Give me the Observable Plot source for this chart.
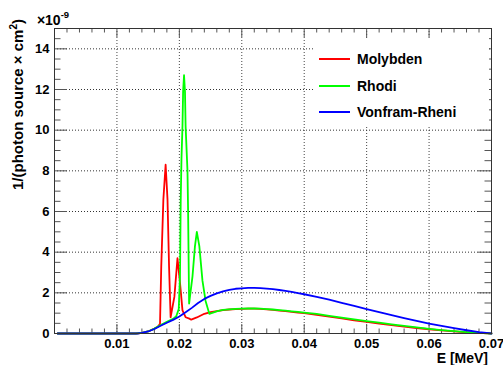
<!DOCTYPE html>
<html><head><meta charset="utf-8">
<script src="https://cdn.jsdelivr.net/npm/d3@7"></script>
<script src="https://cdn.jsdelivr.net/npm/@observablehq/plot@0.6"></script>
<style>
body{margin:0;background:#fff;}
#wrap{position:relative;width:503px;height:365px;font-family:"Liberation Sans",Arial,Helvetica,sans-serif;}
#legend{position:absolute;left:313px;top:38px;width:176px;height:88px;background:#fff;}
.item{position:absolute;left:6px;height:20px;display:flex;align-items:center;font-weight:bold;font-size:14px;color:#000;}
.sw{width:31px;height:2px;margin-right:7px;}
</style></head><body><div id="wrap"></div>
<script>
const seriesNames = ["Molybden", "Rhodi", "Vonfram-Rheni"];
const seriesColors = ["#ff0000", "#00ff00", "#0000ff"];

const molybdenE = [0.0005,0.013,0.014,0.015,0.016,0.0165,0.0169,0.0171,0.01744,0.0178,0.0181,0.01835,0.0186,0.0192,0.0197,0.0201,0.0205,0.021,0.0216,0.0219,0.0228,0.024,0.025,0.026,0.027,0.028,0.029,0.030,0.031,0.032,0.033,0.034,0.035,0.036,0.037,0.038,0.039,0.040,0.042,0.044,0.046,0.048,0.050,0.052,0.054,0.056,0.058,0.060,0.062,0.064,0.066,0.068,0.070];
const molybdenV = [0,0,0.03,0.1,0.24,0.32,0.48,3.3,6.6,8.3,6.6,3.3,0.8,1.8,3.7,2.5,1.14,0.8,0.73,0.68,0.79,0.97,1.05,1.1,1.15,1.18,1.2,1.21,1.22,1.22,1.21,1.19,1.16,1.13,1.1,1.06,1.03,1.0,0.92,0.83,0.74,0.65,0.57,0.49,0.41,0.34,0.27,0.21,0.15,0.1,0.06,0.03,0.0];

const rhodiE = [0.0005,0.013,0.014,0.015,0.016,0.017,0.018,0.019,0.0195,0.0199,0.0201,0.02022,0.02034,0.0205,0.0206,0.02075,0.0209,0.021,0.0213,0.0214,0.02156,0.0221,0.0225,0.0228,0.0232,0.0237,0.0242,0.0248,0.0261,0.027,0.028,0.029,0.030,0.031,0.032,0.033,0.034,0.035,0.036,0.037,0.038,0.039,0.040,0.042,0.044,0.046,0.048,0.050,0.052,0.054,0.056,0.058,0.060,0.062,0.064,0.066,0.068,0.070];
const rhodiV = [0,0,0.03,0.1,0.24,0.42,0.57,0.72,0.85,1.2,2.8,6.6,8.6,10.2,11.9,12.7,11.9,10.2,8.0,6.0,1.47,2.8,4.3,5.0,4.3,2.6,1.6,0.97,1.1,1.16,1.19,1.21,1.22,1.23,1.23,1.22,1.2,1.18,1.15,1.12,1.09,1.06,1.03,0.96,0.87,0.78,0.69,0.61,0.53,0.45,0.37,0.3,0.23,0.17,0.12,0.07,0.03,0.0];

const vonframE = [0.0005,0.0133,0.014,0.015,0.016,0.017,0.018,0.019,0.020,0.021,0.022,0.023,0.024,0.025,0.026,0.027,0.028,0.029,0.030,0.031,0.032,0.033,0.034,0.035,0.036,0.037,0.038,0.039,0.040,0.042,0.044,0.046,0.048,0.050,0.052,0.054,0.056,0.058,0.060,0.062,0.064,0.066,0.068,0.070];
const vonframV = [0,0,0.03,0.1,0.22,0.38,0.53,0.67,0.84,1.04,1.26,1.5,1.7,1.85,1.97,2.07,2.15,2.2,2.22,2.24,2.24,2.23,2.21,2.18,2.14,2.1,2.05,1.99,1.93,1.8,1.66,1.51,1.36,1.2,1.05,0.9,0.76,0.62,0.49,0.37,0.26,0.16,0.07,0.0];

const xMajor = [0.01,0.02,0.03,0.04,0.05,0.06,0.07];
const xTickLabels = ["0.01","0.02","0.03","0.04","0.05","0.06","0.07"];
const yMajor = [0,2,4,6,8,10,12,14];
const yTickLabels = ["0","2","4","6","8","10","12","14"];
const xMinor = d3.range(0, 71, 2).map(d => d / 1000).filter(d => Math.round(d * 1000) % 10 !== 0);
const yMinor = d3.range(0.5, 15, 0.5).filter(d => d % 2 !== 0);
const xGrid = xMajor.slice(0, 6);
const yGrid = yMajor.slice(1);

const W = 503, H = 365, mL = 54, mR = 12, mT = 28, mB = 32;
const pw = W - mL - mR, ph = H - mT - mB;

const toRows = (E, V, s) => E.map((e, i) => ({E: e, v: V[i], s}));
const series = [
  toRows(molybdenE, molybdenV, seriesNames[0]),
  toRows(rhodiE, rhodiV, seriesNames[1]),
  toRows(vonframE, vonframV, seriesNames[2])
];

const tickC = "#555";
const svg = Plot.plot({
  width: W, height: H,
  marginLeft: mL, marginRight: mR, marginTop: mT, marginBottom: mB,
  x: {domain: [0, 0.07]},
  y: {domain: [0, 15]},
  style: {fontFamily: '"Liberation Sans", Arial, sans-serif', background: "#fff"},
  marks: [
    Plot.ruleX(xGrid, {x: d => d, stroke: "#444", strokeDasharray: "1,2", strokeWidth: 1}),
    Plot.ruleY(yGrid, {y: d => d, stroke: "#333", strokeDasharray: "1,2", strokeWidth: 1}),
    Plot.tickX(xMajor, {x: d => d, insetTop: ph - 9, stroke: tickC}),
    Plot.tickX(xMinor, {x: d => d, insetTop: ph - 4.5, stroke: tickC}),
    Plot.tickX(xMajor, {x: d => d, insetBottom: ph - 9, stroke: tickC}),
    Plot.tickX(xMinor, {x: d => d, insetBottom: ph - 4.5, stroke: tickC}),
    Plot.tickY(yMajor, {y: d => d, insetRight: pw - 13, stroke: tickC}),
    Plot.tickY(yMinor, {y: d => d, insetRight: pw - 6.5, stroke: tickC}),
    Plot.tickY(yMajor, {y: d => d, insetLeft: pw - 13, stroke: tickC}),
    Plot.tickY(yMinor, {y: d => d, insetLeft: pw - 6.5, stroke: tickC}),
    ...series.map((rows, i) => Plot.line(rows, {x: "E", y: "v", stroke: seriesColors[i], strokeWidth: 1.8})),
    Plot.frame({stroke: "#333"}),
    Plot.axisX(xMajor, {tickSize: 0, tickPadding: 5, fontSize: 13, fontWeight: "bold", tickFormat: (d, i) => xTickLabels[i], label: null}),
    Plot.axisY(yMajor, {tickSize: 0, tickPadding: 5, fontSize: 13, fontWeight: "bold", tickFormat: (d, i) => yTickLabels[i], label: null})
  ]
});

const wrap = document.getElementById("wrap");
wrap.appendChild(svg);
const s = d3.select(svg);
const tg = s.append("g").attr("font-family", '"Liberation Sans", Arial, sans-serif').attr("font-weight", "bold").attr("fill", "#000");
const yt = tg.append("text").attr("transform", "translate(23,19) rotate(-90)").attr("text-anchor", "end").attr("font-size", 15);
yt.append("tspan").text("1/(photon source × cm");
yt.append("tspan").attr("font-size", 10).attr("dy", -6).text("2");
yt.append("tspan").attr("dy", 6).text(")");
const ex = tg.append("text").attr("x", 53).attr("y", 25).attr("font-size", 14);
ex.append("tspan").text("×10");
ex.append("tspan").attr("font-size", 9.5).attr("dy", -7).text("-9");
tg.append("text").attr("x", 488).attr("y", 363).attr("text-anchor", "end").attr("font-size", 14).text("E [MeV]");

const leg = document.createElement("div");
leg.id = "legend";
const tops = [11, 38, 64];
seriesNames.forEach((n, i) => {
  const it = document.createElement("div");
  it.className = "item";
  it.style.top = tops[i] + "px";
  const sw = document.createElement("span");
  sw.className = "sw";
  sw.style.background = seriesColors[i];
  it.appendChild(sw);
  const t = document.createElement("span");
  t.textContent = n;
  it.appendChild(t);
  leg.appendChild(it);
});
wrap.appendChild(leg);
</script>
</body></html>
